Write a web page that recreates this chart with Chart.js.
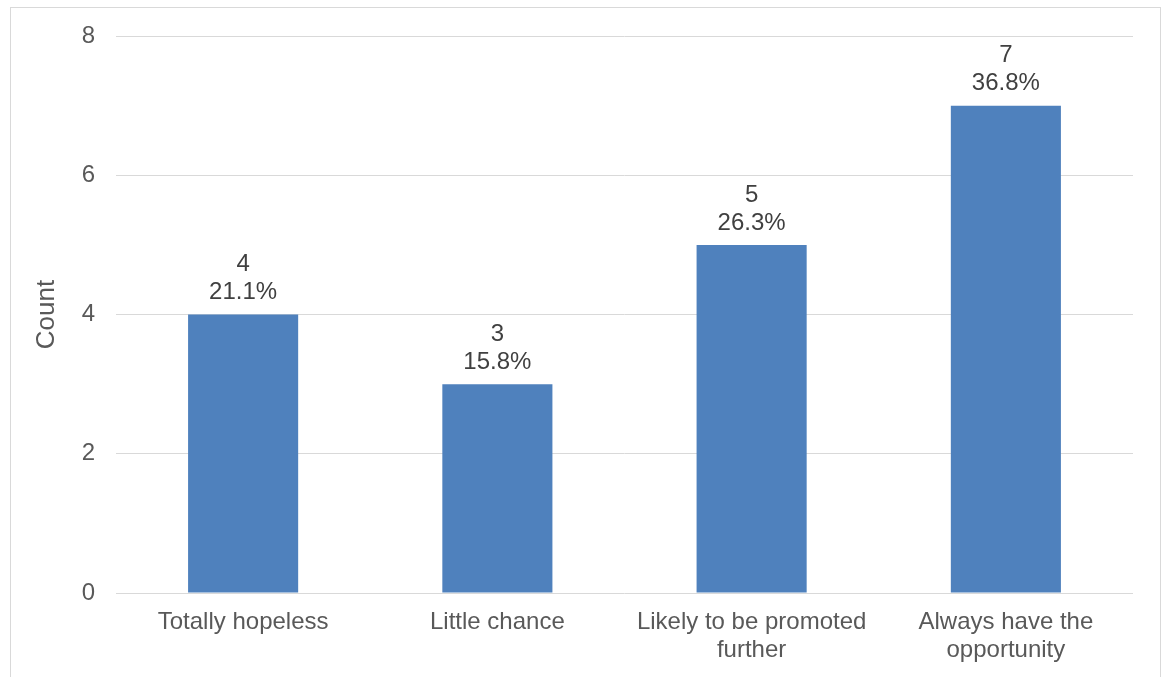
<!DOCTYPE html>
<html>
<head>
<meta charset="utf-8">
<script src="https://cdn.jsdelivr.net/npm/chart.js@4/dist/chart.umd.min.js"></script>
<style>
  html, body { margin: 0; padding: 0; background: #fff; overflow: hidden; }
  #frame {
    position: absolute; left: 10px; top: 7px;
    width: 1149px; height: 700px;
    border: 1px solid #d9d9d9;
  }
  #chart { position: absolute; left: 0; top: 0; }
</style>
</head>
<body>
<div id="frame"><canvas id="chart" width="1149" height="669"></canvas></div>
<script>
const categories = [
  "Totally hopeless",
  "Little chance",
  ["Likely to be promoted", "further"],
  ["Always have the", "opportunity"]
];
const counts = [4, 3, 5, 7];
const percents = ["21.1%", "15.8%", "26.3%", "36.8%"];
const yTicks = [0, 2, 4, 6, 8];

const FONT = "'Liberation Sans', Arial, sans-serif";

// two-line labels above each bar: count, then percent
const barLabels = {
  id: "barLabels",
  afterDatasetsDraw(chart) {
    const ctx = chart.ctx;
    const meta = chart.getDatasetMeta(0);
    ctx.save();
    ctx.fillStyle = "#404040";
    ctx.font = "24px " + FONT;
    ctx.textAlign = "center";
    ctx.textBaseline = "middle";
    meta.data.forEach((bar, i) => {
      ctx.fillText(String(counts[i]), bar.x, bar.y - 50);
      ctx.fillText(percents[i], bar.x, bar.y - 22);
    });
    ctx.restore();
  }
};

new Chart(document.getElementById("chart").getContext("2d"), {
  type: "bar",
  data: {
    labels: categories,
    datasets: [{
      label: "Count",
      data: counts,
      backgroundColor: "#4f81bd",
      borderWidth: 0,
      categoryPercentage: 1,
      barPercentage: 0.433
    }]
  },
  options: {
    responsive: false,
    animation: false,
    layout: { padding: { left: 0, top: 28, right: 27, bottom: 0 } },
    plugins: {
      legend: { display: false },
      tooltip: { enabled: false }
    },
    scales: {
      x: {
        grid: { display: false, drawTicks: false },
        border: { display: false },
        ticks: {
          color: "#595959",
          font: { family: FONT, size: 24, lineHeight: 1.17 },
          padding: 15,
          maxRotation: 0,
          autoSkip: false
        },
        afterFit(scale) { scale.height = 84; }
      },
      y: {
        min: 0,
        max: 8,
        afterBuildTicks(scale) { scale.ticks = yTicks.map((v) => ({ value: v })); },
        grid: { color: "#d9d9d9", lineWidth: 1, drawTicks: false },
        border: { display: false },
        ticks: {
          color: "#595959",
          font: { family: FONT, size: 24, lineHeight: 1.2 },
          padding: 21
        },
        title: {
          display: true,
          text: "Count",
          color: "#595959",
          font: { family: FONT, size: 26 },
          padding: { top: 20, bottom: 0 }
        },
        afterFit(scale) {
          scale.width = 105;
          scale.paddingTop = 0;
          scale.paddingBottom = 0;
        }
      }
    }
  },
  plugins: [barLabels]
});
</script>
</body>
</html>
